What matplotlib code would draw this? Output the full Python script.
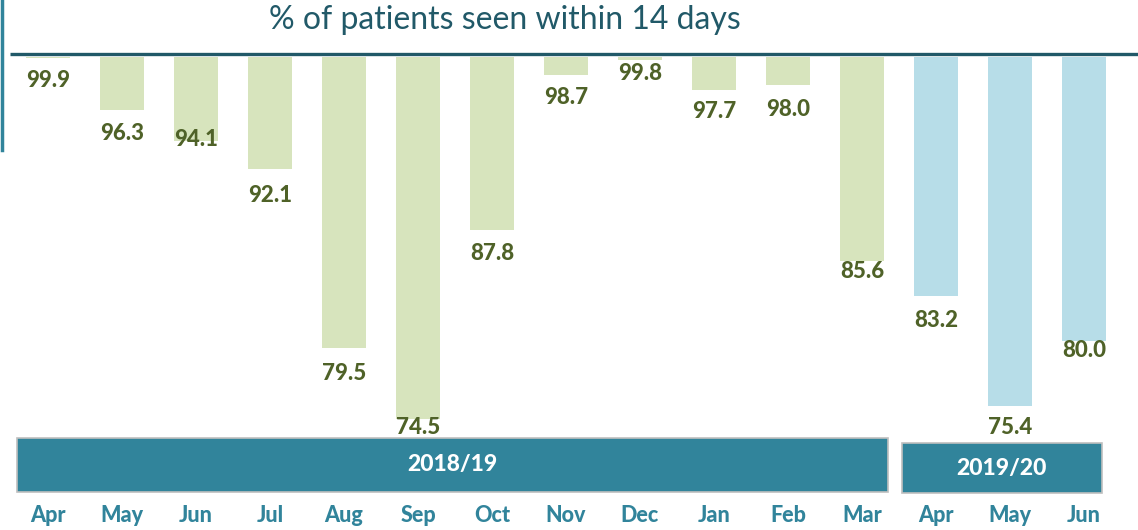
import matplotlib
matplotlib.use("Agg")
import matplotlib.pyplot as plt
from matplotlib.patches import Rectangle
import matplotlib.transforms as mtransforms

months = ["Apr", "May", "Jun", "Jul", "Aug", "Sep", "Oct", "Nov", "Dec",
          "Jan", "Feb", "Mar", "Apr", "May", "Jun"]
values = [99.9, 96.3, 94.1, 92.1, 79.5, 74.5, 87.8, 98.7, 99.8,
          97.7, 98.0, 85.6, 83.2, 75.4, 80.0]
years = ["2018/19"] * 12 + ["2019/20"] * 3
year_labels = ["2018/19", "2019/20"]
title = "% of patients seen within 14 days"

# label offsets below bar end (points) - mimic reference placement
label_offsets = [16, 17, -1, 19, 18, 6, 17, 16, 10, 16, 17, 7, 18, 15, 7]

GREEN = "#d7e4bd"
BLUE = "#b7dde8"
TEAL = "#31849b"
DARK = "#215968"
OLIVE = "#4f6228"
FONT = "Lato"

W, H = 1138, 530
fig = plt.figure(figsize=(W / 100, H / 100), dpi=100)
ax = fig.add_axes([0, 0, 1, 1])

px_x0, px_dx = 48, 74
px_y100, px_per_unit = 57, 14.2
ax.set_xlim(-px_x0 / px_dx, (W - px_x0) / px_dx)
ax.set_ylim(100 - (H - px_y100) / px_per_unit, 100 + px_y100 / px_per_unit)
ax.axis("off")

xs = list(range(len(values)))
colors = [GREEN if y == year_labels[0] else BLUE for y in years]
heights = [100 - v for v in values]
ax.bar(xs, heights, bottom=values, width=0.6, color=colors, edgecolor="none", zorder=2)

for x, v, off in zip(xs, values, label_offsets):
    ax.annotate(f"{v:.1f}", (x, v), xytext=(0, -off), textcoords="offset points",
                ha="center", va="center", fontsize=16, fontweight="black",
                color=OLIVE, family=FONT, zorder=4)

# top line just above 100
ly = 100 + 2.5 / px_per_unit
ax.plot([(10 - px_x0) / px_dx, (W - px_x0) / px_dx], [ly, ly], color=DARK, lw=2.4,
        solid_capstyle="butt", zorder=3)

# left border remnant
fig.add_artist(plt.Line2D([0.0015, 0.0015], [1 - 150 / H, 1.0], color=TEAL, lw=2.5))

trans = mtransforms.blended_transform_factory(ax.transData, ax.transAxes)

# year boxes
box_specs = [(year_labels[0], -0.42, 11.35, 1 - 492 / H, 1 - 438 / H),
             (year_labels[1], 11.54, 14.24, 1 - 493 / H, 1 - 443 / H)]
for lab, x0, x1, y0, y1 in box_specs:
    ax.add_patch(Rectangle((x0, y0), x1 - x0, y1 - y0, transform=trans,
                           facecolor=TEAL, edgecolor="#bfbfbf", lw=1.2, zorder=3))
    ax.text((x0 + x1) / 2, (y0 + y1) / 2, lab, transform=trans, ha="center", va="center",
            color="white", fontsize=16.5, fontweight="black", family=FONT, zorder=4)

for x, m in zip(xs, months):
    ax.text(x, 1 - 515 / H, m, transform=trans, ha="center", va="center",
            color=TEAL, fontsize=15.5, fontweight="black", family=FONT)

fig.text(505 / W, 1 - 20 / H, title, ha="center", va="center", fontsize=23,
         color=DARK, family=FONT)

fig.savefig("out.png", dpi=100)
